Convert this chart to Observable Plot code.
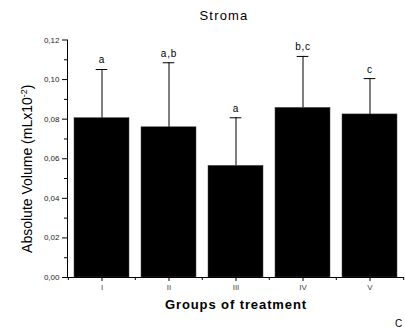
<!DOCTYPE html>
<html>
<head>
<meta charset="utf-8">
<script src="https://cdn.jsdelivr.net/npm/d3@7"></script>
<script src="https://cdn.jsdelivr.net/npm/@observablehq/plot@0.6"></script>
<style>
  html, body { margin: 0; padding: 0; background: #fff; }
</style>
</head>
<body>
<div id="chart"></div>
<script>
const groups = ["I", "II", "III", "IV", "V"];
const means = [0.0805, 0.0759, 0.0564, 0.0857, 0.0824];
const sds = [0.0246, 0.0326, 0.0243, 0.0260, 0.0181];
const letters = ["a", "a,b", "a", "b,c", "c"];
const yMajor = [0, 0.02, 0.04, 0.06, 0.08, 0.10, 0.12];
const yMinor = [0.01, 0.03, 0.05, 0.07, 0.09, 0.11];
const titleText = "Stroma";
const xLabel = "Groups of treatment";
const yLabel = "Absolute Volume (mLx10-2)";
const cornerText = "C";

const data = groups.map((g, i) => ({group: g, mean: means[i], upper: means[i] + sds[i], letter: letters[i]}));

const W = 405, H = 330, mL = 67, mR = 1, mT = 39.5, mB = 53;
const step = (W - mL - mR) / groups.length;
const font = "'Liberation Sans', Arial, sans-serif";

const plot = Plot.plot({
  width: W,
  height: H,
  marginLeft: mL,
  marginRight: mR,
  marginTop: mT,
  marginBottom: mB,
  style: {fontFamily: font, background: "#fff", color: "#000"},
  x: {domain: groups, paddingInner: 0.18, paddingOuter: 0.09, label: null},
  y: {domain: [0, 0.12], label: null},
  marks: [
    Plot.barY(data, {x: "group", y: "mean", fill: "#000", stroke: "#444", strokeWidth: 0.5}),
    Plot.ruleX(data, {x: "group", y1: "mean", y2: "upper", stroke: "#000", strokeWidth: 1}),
    Plot.tickY(data, {x: "group", y: "upper", stroke: "#000", strokeWidth: 1, insetLeft: 21.7, insetRight: 21.7}),
    Plot.text(data, {x: "group", y: "upper", text: "letter", dy: -6, lineAnchor: "bottom", fontSize: 10, fill: "#000"}),
    Plot.axisY({ticks: yMajor, tickSize: 5, tickPadding: 3, fontSize: 8, tickFormat: d => d.toFixed(2).replace(".", ","), label: null, stroke: "#000", fill: "#222"}),
    Plot.axisY({ticks: yMinor, tickSize: 3, text: null, label: null, stroke: "#000"}),
    Plot.axisX({tickSize: 4, tickPadding: 3, fontSize: 8, label: null, stroke: "#000", fill: "#444"}),
    Plot.ruleX(groups, {x: d => d, y1: () => 0, y2: () => 0, dx: -step / 2, insetBottom: -3, stroke: "#000"}),
    Plot.ruleX(groups.slice(-1), {x: d => d, y1: () => 0, y2: () => 0, dx: step / 2, insetBottom: -3, stroke: "#000"}),
    Plot.ruleY([0], {stroke: "#000", insetLeft: -2}),
    Plot.frame({anchor: "left", stroke: "#000"}),
    Plot.text([titleText], {text: d => d, frameAnchor: "top", dx: -12, dy: -20, lineAnchor: "bottom", fontSize: 13, fill: "#000"}),
    Plot.text([xLabel], {text: d => d, frameAnchor: "bottom", dy: 31, lineAnchor: "bottom", fontSize: 13, fontWeight: "bold", fill: "#000"}),
    Plot.text([yLabel], {text: d => d, frameAnchor: "left", textAnchor: "middle", rotate: -90, dx: -40, dy: 10, lineAnchor: "middle", fontSize: 14, fill: "#000"}),
    Plot.text([cornerText], {text: d => d, frameAnchor: "bottom-right", textAnchor: "middle", dx: -6, dy: 49, lineAnchor: "bottom", fontSize: 10, fill: "#000"})
  ]
});

const texts = d3.select(plot).selectAll("text");
texts.each(function () {
  const t = d3.select(this);
  const s = t.text();
  if (s === titleText) t.style("letter-spacing", "1.2px");
  else if (s === xLabel) t.style("letter-spacing", "0.9px");
  else if (letters.includes(s)) t.style("letter-spacing", "0.8px");
  else if (s === yLabel) {
    const m = s.match(/^(.*x10)(-2)(\))$/);
    if (m) {
      t.text(null);
      t.append("tspan").text(m[1]);
      t.append("tspan").attr("baseline-shift", "super").attr("font-size", "9").text(m[2]);
      t.append("tspan").text(m[3]);
    }
  }
});

document.getElementById("chart").appendChild(plot);
</script>
</body>
</html>
